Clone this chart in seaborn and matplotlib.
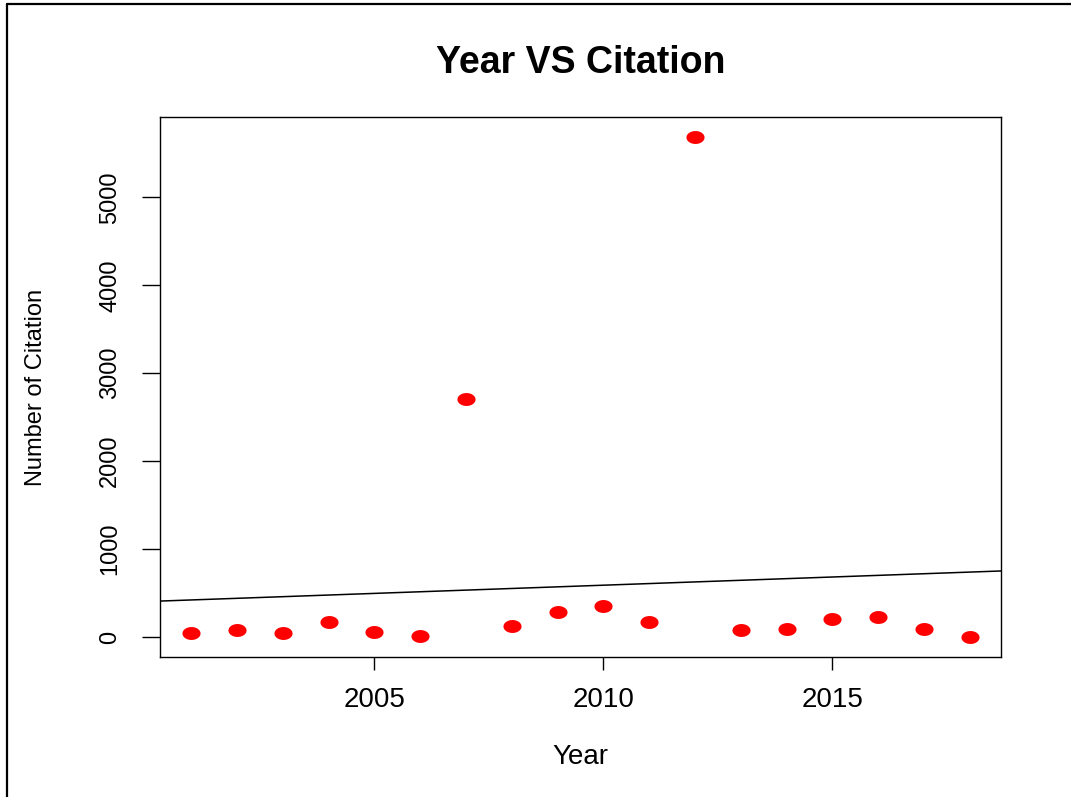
import numpy as np
import pandas as pd
import matplotlib
matplotlib.use("Agg")
import matplotlib.pyplot as plt
import seaborn as sns
from matplotlib.path import Path
from matplotlib.lines import Line2D

# Data
years = [2001, 2002, 2003, 2004, 2005, 2006, 2007, 2008, 2009,
         2010, 2011, 2012, 2013, 2014, 2015, 2016, 2017, 2018]
citations = [42, 76, 42, 174, 60, 8, 2711, 125, 288,
             357, 174, 5687, 76, 91, 205, 224, 91, 0]
x_ticks = [2005, 2010, 2015]
y_ticks = [0, 1000, 2000, 3000, 4000, 5000]

df = pd.DataFrame({"year": years, "citation": citations})

sns.set_theme(style="ticks")
plt.rcParams["font.family"] = ["Liberation Sans", "DejaVu Sans"]
plt.rcParams["axes.edgecolor"] = "black"
plt.rcParams["axes.linewidth"] = 1.0
plt.rcParams["text.color"] = "black"

fig = plt.figure(figsize=(10.71, 7.97), dpi=100)
ax = fig.add_subplot(111)
fig.subplots_adjust(left=0.1494, right=0.9346, bottom=0.1757, top=0.8532)

# the reference is stretched sideways, so the dots are slightly wide ellipses
t = np.linspace(0, 2 * np.pi, 64)
ellipse = Path(np.column_stack([1.4 * np.cos(t), np.sin(t)]), closed=True)

sns.scatterplot(data=df, x="year", y="citation", color="#FF0000",
                marker=ellipse, s=170, linewidth=0, ax=ax, zorder=3)

# R-style 4% padding around the data range
xr = max(years) - min(years)
yr = max(citations) - min(citations)
xlim = (min(years) - 0.04 * xr, max(years) + 0.04 * xr)
ylim = (min(citations) - 0.04 * yr, max(citations) + 0.04 * yr)
ax.set_xlim(xlim)
ax.set_ylim(ylim)

# least squares line across the whole panel (like abline(lm(...)))
sns.regplot(data=df, x="year", y="citation", scatter=False, ci=None,
            truncate=False, color="black", line_kws={"linewidth": 1.1}, ax=ax)
ax.set_xlim(xlim)
ax.set_ylim(ylim)

ax.set_xticks(x_ticks)
ax.set_yticks(y_ticks)
ax.tick_params(axis="x", length=9.4, width=1, pad=12, labelsize=20,
               colors="black")
ax.tick_params(axis="y", length=13, width=1, pad=15, labelsize=17,
               colors="black")
for lbl in ax.get_yticklabels():
    lbl.set_rotation(90)
    lbl.set_va("center")

ax.set_title("Year VS Citation", fontsize=27, fontweight="bold", pad=32,
             color="black")
ax.set_xlabel("Year", fontsize=20, color="black")
ax.set_ylabel("Number of Citation", fontsize=17, color="black")
ax.xaxis.set_label_coords(0.5, -0.162)
ax.yaxis.set_label_coords(-0.134, 0.5)

# screenshot frame on the left and top edges
fig.add_artist(Line2D([6.5 / 1071, 6.5 / 1071], [0, 1 - 3.5 / 797],
                      color="black", linewidth=1.6))
fig.add_artist(Line2D([6.5 / 1071, 1], [1 - 3.5 / 797, 1 - 3.5 / 797],
                      color="black", linewidth=1.6))

fig.savefig("out.png", dpi=100)
